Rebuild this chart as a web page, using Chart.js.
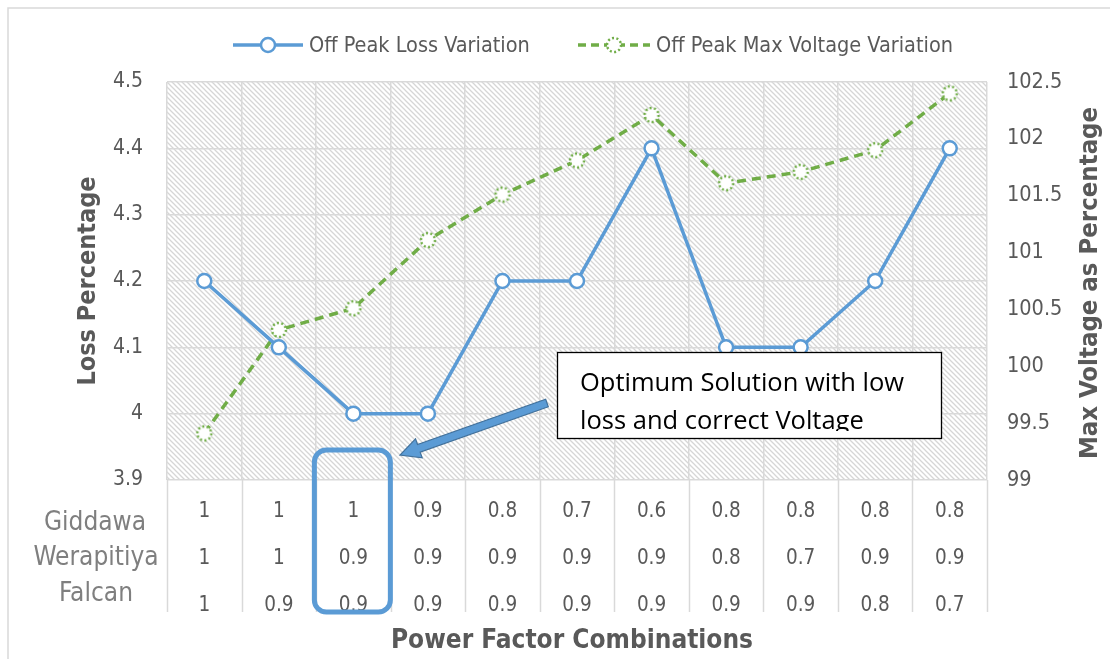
<!DOCTYPE html>
<html>
<head>
<meta charset="utf-8">
<script src="https://cdn.jsdelivr.net/npm/chart.js@4.4.0/dist/chart.umd.min.js"></script>
<style>
  html, body { margin: 0; padding: 0; background: #fff; }
  #wrap { width: 1110px; height: 659px; position: relative; }
</style>
</head>
<body>
<div id="wrap"><canvas id="chart" width="1110" height="659"></canvas></div>
<script>
// Power factor combinations (table rows under the x axis)
const giddawa = ['1', '1', '1', '0.9', '0.8', '0.7', '0.6', '0.8', '0.8', '0.8', '0.8'];
const werapitiya = ['1', '1', '0.9', '0.9', '0.9', '0.9', '0.9', '0.8', '0.7', '0.9', '0.9'];
const falcan = ['1', '0.9', '0.9', '0.9', '0.9', '0.9', '0.9', '0.9', '0.9', '0.8', '0.7'];
const rowNames = ['Giddawa', 'Werapitiya', 'Falcan'];

// Series values
const lossValues = [4.2, 4.1, 4.0, 4.0, 4.2, 4.2, 4.4, 4.1, 4.1, 4.2, 4.4];
const voltageValues = [99.41, 100.32, 100.51, 101.11, 101.51, 101.81, 102.21, 101.61, 101.71, 101.9, 102.4];

const labels = giddawa.map((g, i) => [g, werapitiya[i], falcan[i]]);

const BLUE = '#5b9bd5';
const GREEN = '#70ad47';
const GREY = '#595959';
const GRID = '#d9d9d9';
const NARROW = '"Liberation Sans Narrow", "DejaVu Sans Condensed", "Noto Sans", sans-serif';

// dotted circle marker for the voltage line
function dottedMarker() {
    const c = document.createElement('canvas');
    c.width = 20; c.height = 20;
    const g = c.getContext('2d');
    g.beginPath();
    g.arc(10, 10, 7, 0, Math.PI * 2);
    g.fillStyle = '#fff';
    g.fill();
    g.setLineDash([2, 2.4]);
    g.lineWidth = 2.5;
    g.strokeStyle = GREEN;
    g.stroke();
    return c;
}
const greenMarker = dottedMarker();

// diagonal hatch for the plot background
function hatch() {
    const c = document.createElement('canvas');
    c.width = 5; c.height = 5;
    const g = c.getContext('2d');
    g.fillStyle = '#fff';
    g.fillRect(0, 0, 5, 5);
    g.strokeStyle = '#d6d6d6';
    g.lineWidth = 1.3;
    g.beginPath();
    g.moveTo(-1, -1); g.lineTo(6, 6);
    g.moveTo(-1, 4); g.lineTo(1, 6);
    g.moveTo(4, -1); g.lineTo(6, 1);
    g.stroke();
    return g.createPattern(c, 'repeat');
}

const decorations = {
    id: 'decorations',
    beforeDraw(chart) {
        const ctx = chart.ctx;
        const a = chart.chartArea;
        ctx.save();
        ctx.fillStyle = hatch();
        ctx.fillRect(a.left, a.top, a.right - a.left, a.bottom - a.top);
        // outer frame
        ctx.strokeStyle = GRID;
        ctx.lineWidth = 1.5;
        ctx.strokeRect(8, 8, 1200, 800);
        ctx.restore();
    },
    afterDraw(chart) {
        const ctx = chart.ctx;
        const a = chart.chartArea;
        const x = chart.scales.x;
        const n = labels.length;
        const step = (a.right - a.left) / n;
        ctx.save();
        // table column lines below the plot
        ctx.strokeStyle = GRID;
        ctx.lineWidth = 1.5;
        for (let i = 0; i <= n; i++) {
            const px = Math.round(a.left + i * step) + 0.5;
            ctx.beginPath();
            ctx.moveTo(px, a.bottom);
            ctx.lineTo(px, a.bottom + 132);
            ctx.stroke();
        }
        // row names
        ctx.fillStyle = '#7f7f7f';
        ctx.font = '26px ' + NARROW;
        ctx.textAlign = 'center';
        ctx.textBaseline = 'middle';
        ctx.fillText(rowNames[0], 95, a.bottom + 43);
        ctx.fillText(rowNames[1], 96, a.bottom + 78);
        ctx.fillText(rowNames[2], 96, a.bottom + 114);

        // axis titles
        ctx.fillStyle = GREY;
        ctx.font = 'bold 26px ' + NARROW;
        ctx.fillText('Power Factor Combinations', 572, 641);
        ctx.save();
        ctx.translate(88, 281);
        ctx.rotate(-Math.PI / 2);
        ctx.font = 'bold 25px ' + NARROW;
        ctx.fillText('Loss Percentage', 0, 0);
        ctx.restore();
        ctx.save();
        ctx.translate(1090, 283);
        ctx.rotate(-Math.PI / 2);
        ctx.font = 'bold 25.5px ' + NARROW;
        ctx.fillText('Max Voltage as Percentage', 0, 0);
        ctx.restore();

        // legend
        ctx.font = '21.5px ' + NARROW;
        ctx.textAlign = 'left';
        ctx.lineWidth = 3.5;
        ctx.strokeStyle = BLUE;
        ctx.beginPath(); ctx.moveTo(233, 45); ctx.lineTo(303, 45); ctx.stroke();
        ctx.beginPath(); ctx.arc(268, 45, 7, 0, Math.PI * 2);
        ctx.fillStyle = '#fff'; ctx.fill();
        ctx.lineWidth = 2.5; ctx.stroke();
        ctx.fillStyle = GREY;
        ctx.fillText('Off Peak Loss Variation', 309, 46);
        ctx.strokeStyle = GREEN;
        ctx.lineWidth = 3.5;
        ctx.setLineDash([8, 5]);
        ctx.beginPath(); ctx.moveTo(578, 45); ctx.lineTo(650, 45); ctx.stroke();
        ctx.setLineDash([]);
        ctx.drawImage(greenMarker, 604, 35);
        ctx.fillStyle = GREY;
        ctx.fillText('Off Peak Max Voltage Variation', 656, 46);

        // highlight box around the optimum column
        const cx = x.getPixelForValue(2);
        ctx.strokeStyle = BLUE;
        ctx.lineWidth = 5;
        ctx.beginPath();
        ctx.roundRect(cx - 39, a.bottom - 30, 76, 162, 12);
        ctx.stroke();

        // arrow
        const x1 = 547, y1 = 403, x2 = 400, y2 = 455;
        const ang = Math.atan2(y2 - y1, x2 - x1);
        const len = Math.hypot(x2 - x1, y2 - y1);
        ctx.save();
        ctx.translate(x1, y1);
        ctx.rotate(ang);
        ctx.beginPath();
        ctx.moveTo(0, -4);
        ctx.lineTo(len - 20, -4);
        ctx.lineTo(len - 20, -10);
        ctx.lineTo(len, 0);
        ctx.lineTo(len - 20, 10);
        ctx.lineTo(len - 20, 4);
        ctx.lineTo(0, 4);
        ctx.closePath();
        ctx.fillStyle = BLUE;
        ctx.fill();
        ctx.strokeStyle = '#41719c';
        ctx.lineWidth = 1.2;
        ctx.stroke();
        ctx.restore();

        // annotation box
        ctx.fillStyle = '#fff';
        ctx.fillRect(557, 352, 384, 86);
        ctx.strokeStyle = '#000';
        ctx.lineWidth = 1.3;
        ctx.strokeRect(557.5, 352.5, 384, 86);
        ctx.save();
        ctx.beginPath();
        ctx.rect(558, 353, 382, 78);
        ctx.clip();
        ctx.fillStyle = '#000';
        ctx.font = '25.5px "Open Sans", "Noto Sans", sans-serif';
        ctx.textBaseline = 'middle';
        ctx.fillText('Optimum Solution with low', 580, 384);
        ctx.fillText('loss and correct Voltage', 580, 422);
        ctx.restore();
        ctx.restore();
    }
};

new Chart(document.getElementById('chart'), {
    type: 'line',
    data: {
        labels: labels,
        datasets: [{
            label: 'Off Peak Loss Variation',
            data: lossValues,
            yAxisID: 'y',
            borderColor: BLUE,
            borderWidth: 3.5,
            pointStyle: 'circle',
            pointRadius: 7,
            pointBorderWidth: 2.5,
            pointBackgroundColor: '#fff',
            pointBorderColor: BLUE,
            tension: 0
        }, {
            label: 'Off Peak Max Voltage Variation',
            data: voltageValues,
            yAxisID: 'y1',
            borderColor: GREEN,
            borderWidth: 3.5,
            borderDash: [9, 6],
            pointStyle: greenMarker,
            tension: 0
        }]
    },
    options: {
        responsive: false,
        animation: false,
        layout: { padding: { top: 82, left: 0, right: 0, bottom: 0 } },
        plugins: { legend: { display: false }, tooltip: { enabled: false } },
        scales: {
            x: {
                offset: true,
                grid: { offset: true, color: GRID, lineWidth: 1.5, drawTicks: false },
                border: { display: false },
                ticks: {
                    color: GREY,
                    font: { family: NARROW, size: 20.5, lineHeight: 2.29 },
                    padding: 8,
                    maxRotation: 0,
                    autoSkip: false
                },
                afterFit(scale) { scale.height = 179; }
            },
            y: {
                position: 'left',
                min: 3.9,
                max: 4.5,
                ticks: {
                    stepSize: 0.1,
                    color: GREY,
                    padding: 24,
                    font: { family: NARROW, size: 21 },
                    callback: v => +v.toFixed(1)
                },
                grid: { color: GRID, lineWidth: 1.5, drawTicks: false },
                border: { display: false },
                afterFit(scale) { scale.width = 167; }
            },
            y1: {
                position: 'right',
                min: 99,
                max: 102.5,
                ticks: {
                    stepSize: 0.5,
                    color: GREY,
                    padding: 20,
                    font: { family: NARROW, size: 21.5 },
                    callback: v => +v.toFixed(1)
                },
                grid: { display: false, drawTicks: false },
                border: { display: false },
                afterFit(scale) { scale.width = 123; }
            }
        }
    },
    plugins: [decorations]
});
</script>
</body>
</html>
